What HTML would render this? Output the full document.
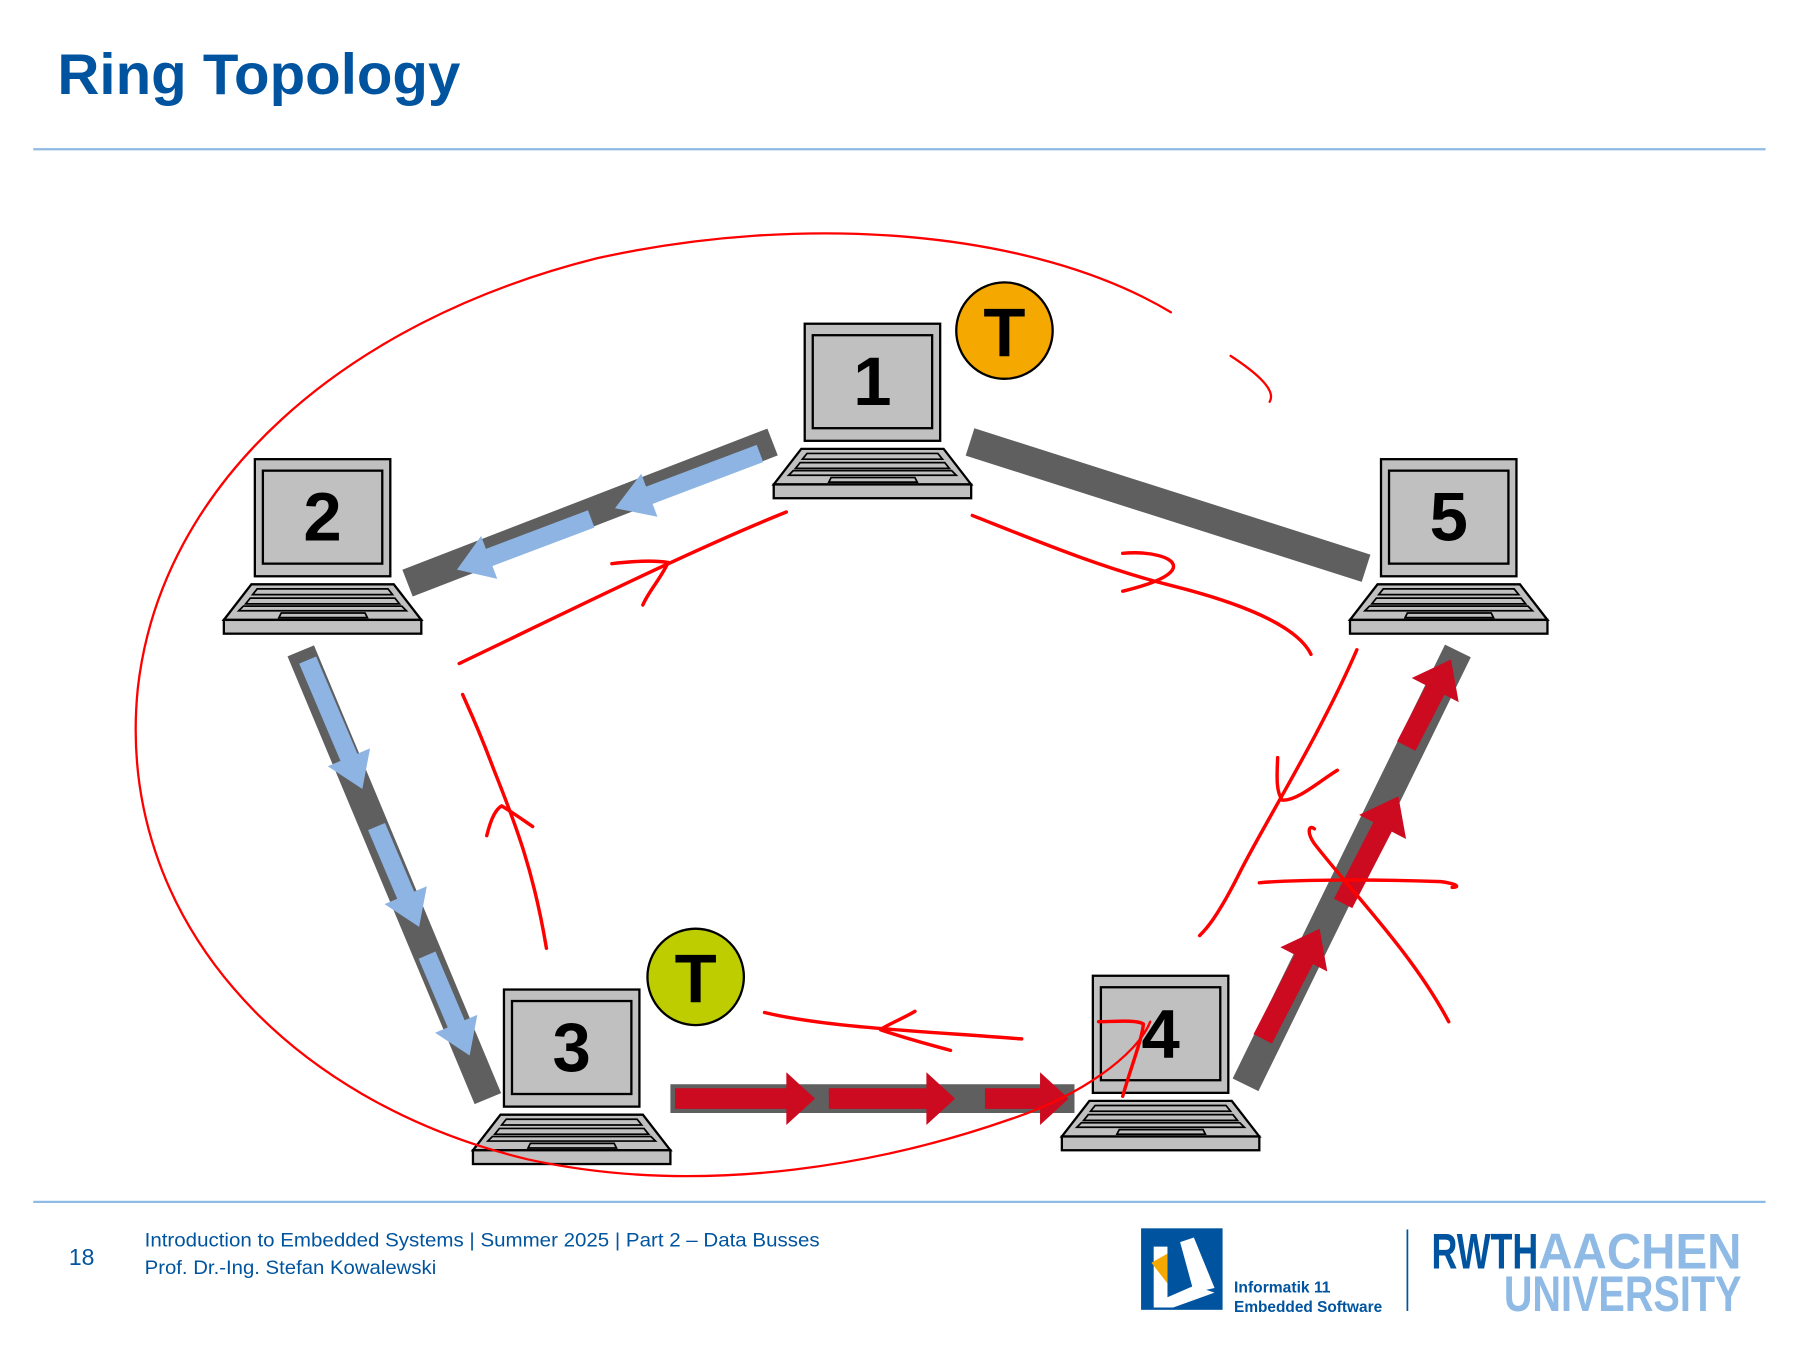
<!DOCTYPE html>
<html><head><meta charset="utf-8"><style>
html,body{margin:0;padding:0;background:#fff}
svg{display:block}
</style></head><body>
<svg width="1800" height="1350" viewBox="0 0 1568 1176" xmlns="http://www.w3.org/2000/svg" font-family="Liberation Sans, sans-serif">
<defs>
<g id="lap">
<rect x="0" y="0" width="118" height="102" fill="#c0c0c0" stroke="#000" stroke-width="2"/>
<rect x="7" y="10" width="104" height="81" fill="#c0c0c0" stroke="#000" stroke-width="2"/>
<polygon points="-3,109 121,109 145,140 -27,140" fill="#c0c0c0" stroke="#000" stroke-width="2"/>
<polygon points="2,113 116,113 120,118 -2,118" fill="none" stroke="#000" stroke-width="1.5"/>
<polygon points="-4,121 122,121 126,126 -8,126" fill="none" stroke="#000" stroke-width="1.5"/>
<polygon points="-10,128 128,128 132,132 -14,132" fill="none" stroke="#000" stroke-width="1.5"/>
<polygon points="23,134 96,134 98,138 21,138" fill="none" stroke="#000" stroke-width="1.5"/>
<rect x="-27" y="140" width="172" height="12" fill="#c0c0c0" stroke="#000" stroke-width="2"/>
</g>
</defs>
<text x="50" y="82" font-weight="bold" font-size="50" fill="#00549f" textLength="351" lengthAdjust="spacingAndGlyphs">Ring Topology</text>
<line x1="29" y1="130" x2="1538" y2="130" stroke="#8ebae5" stroke-width="2"/>
<line x1="29" y1="1047" x2="1538" y2="1047" stroke="#8ebae5" stroke-width="2"/>

<g stroke="#5f5f60" stroke-width="25" stroke-linecap="butt">
<line x1="673" y1="385" x2="355" y2="508"/>
<line x1="845" y1="385" x2="1190" y2="495"/>
<line x1="262" y1="567" x2="425" y2="957"/>
<line x1="584" y1="957" x2="936" y2="957"/>
<line x1="1085" y1="945" x2="1270" y2="567"/>
</g>

<g fill="#8db4e2">
<g transform="translate(662,395) rotate(159.3)"><polygon points="0,-8 103,-8 103,-20 135,0 103,20 103,8 0,8"/></g>
<g transform="translate(515,452) rotate(159.3)"><polygon points="0,-8 95,-8 95,-20 125,0 95,20 95,8 0,8"/></g>
<g transform="translate(268,575) rotate(67)"><polygon points="0,-8 92,-8 92,-20 122,0 92,20 92,8 0,8"/></g>
<g transform="translate(328,720) rotate(67)"><polygon points="0,-8 65,-8 65,-20 95,0 65,20 65,8 0,8"/></g>
<g transform="translate(372,832) rotate(67)"><polygon points="0,-8 65,-8 65,-20 95,0 65,20 65,8 0,8"/></g>
</g>
<g fill="#cc0a20">
<g transform="translate(588,957)"><polygon points="0,-9 97,-9 97,-23 122,0 97,23 97,9 0,9"/></g>
<g transform="translate(722,957)"><polygon points="0,-9 85,-9 85,-23 110,0 85,23 85,9 0,9"/></g>
<g transform="translate(858,957)"><polygon points="0,-9 48,-9 48,-23 73,0 48,23 48,9 0,9"/></g>
<g transform="translate(1100,905) rotate(-62.7)"><polygon points="0,-9 78,-9 78,-23 108,0 78,23 78,9 0,9"/></g>
<g transform="translate(1170,787) rotate(-62.7)"><polygon points="0,-9 75,-9 75,-23 105,0 75,23 75,9 0,9"/></g>
<g transform="translate(1225,650) rotate(-62.7)"><polygon points="0,-9 55,-9 55,-23 85,0 55,23 55,9 0,9"/></g>
</g>

<use href="#lap" x="701" y="282"/>
<use href="#lap" x="222" y="400"/>
<use href="#lap" x="439" y="862"/>
<use href="#lap" x="952" y="850"/>
<use href="#lap" x="1203" y="400"/>
<g font-weight="bold" font-size="60" text-anchor="middle" fill="#000">
<text x="760" y="353">1</text>
<text x="281" y="471">2</text>
<text x="498" y="933">3</text>
<text x="1011" y="921">4</text>
<text x="1262" y="471">5</text>
</g>

<circle cx="875" cy="288" r="42" fill="#f5a800" stroke="#000" stroke-width="2"/>
<text x="875" y="310" text-anchor="middle" font-weight="bold" font-size="60">T</text>
<circle cx="606" cy="851" r="42" fill="#bdcd00" stroke="#000" stroke-width="2"/>
<text x="606" y="873" text-anchor="middle" font-weight="bold" font-size="60">T</text>

<g fill="none" stroke="#ff0000" stroke-width="3" stroke-linecap="round" stroke-linejoin="round">
<path d="M1020,272 C900,200 700,185 520,225 C300,280 140,420 120,600 C100,800 250,960 460,1010 C620,1045 780,1010 880,975 C940,955 990,920 1002,890" stroke-width="2"/>
<path d="M1072,310 C1095,325 1112,340 1106,350" stroke-width="2"/>
<path d="M400,578 C480,540 600,480 685,446"/>
<path d="M533,491 C550,489 570,488 582,490 C575,505 565,515 560,527"/>
<path d="M847,449 C900,470 960,495 1020,510 C1080,525 1130,545 1142,570"/>
<path d="M978,482 C1000,480 1025,485 1022,495 C1018,505 990,512 978,515"/>
<path d="M1182,566 C1150,640 1100,720 1080,760 C1060,800 1050,810 1045,815"/>
<path d="M1113,660 C1112,680 1112,690 1117,697 C1130,698 1150,680 1165,671"/>
<path d="M1097,769 C1130,766 1200,766 1255,768 C1270,770 1272,773 1265,773"/>
<path d="M1145,722 C1140,718 1138,725 1145,735 C1180,780 1230,830 1262,890"/>
<path d="M476,826 C465,760 450,720 430,670 C415,630 405,610 403,605"/>
<path d="M424,728 C428,712 432,705 437,702 C450,710 458,716 464,720"/>
<path d="M666,882 C720,895 800,898 890,905"/>
<path d="M797,881 C785,888 772,893 767,897 C790,905 810,910 828,915"/>
<path d="M978,955 C985,930 995,905 996,892 C990,888 970,890 957,890"/>
</g>

<text x="60" y="1102" font-size="20" fill="#00549f">18</text>
<text x="126" y="1086" font-size="16.5" fill="#00549f" textLength="588" lengthAdjust="spacingAndGlyphs">Introduction to Embedded Systems | Summer 2025 | Part 2 – Data Busses</text>
<text x="126" y="1110" font-size="16.5" fill="#00549f" textLength="254" lengthAdjust="spacingAndGlyphs">Prof. Dr.-Ing. Stefan Kowalewski</text>
<rect x="994" y="1070" width="71" height="71" fill="#00549f"/>
<polygon points="1005,1086 1017,1086 1017,1130 1040,1120 1058,1126 1022,1139 1005,1139" fill="#fff"/>
<polygon points="1028,1082 1040,1078 1058,1122 1040,1126" fill="#fff"/>
<polygon points="1003,1100 1017,1092 1017,1118" fill="#f5a800"/>
<text x="1075" y="1126" font-size="14" font-weight="bold" fill="#00549f" textLength="84" lengthAdjust="spacingAndGlyphs">Informatik 11</text>
<text x="1075" y="1143" font-size="14" font-weight="bold" fill="#00549f" textLength="129" lengthAdjust="spacingAndGlyphs">Embedded Software</text>
<line x1="1226" y1="1071" x2="1226" y2="1142" stroke="#00549f" stroke-width="1.5"/>
<text x="1247" y="1105" font-size="44" font-weight="bold" fill="#00549f" textLength="93" lengthAdjust="spacingAndGlyphs">RWTH</text>
<text x="1340" y="1105" font-size="44" font-weight="bold" fill="#8ebae5" textLength="177" lengthAdjust="spacingAndGlyphs">AACHEN</text>
<text x="1310" y="1142" font-size="44" font-weight="bold" fill="#8ebae5" textLength="207" lengthAdjust="spacingAndGlyphs">UNIVERSITY</text>
</svg>
</body></html>
